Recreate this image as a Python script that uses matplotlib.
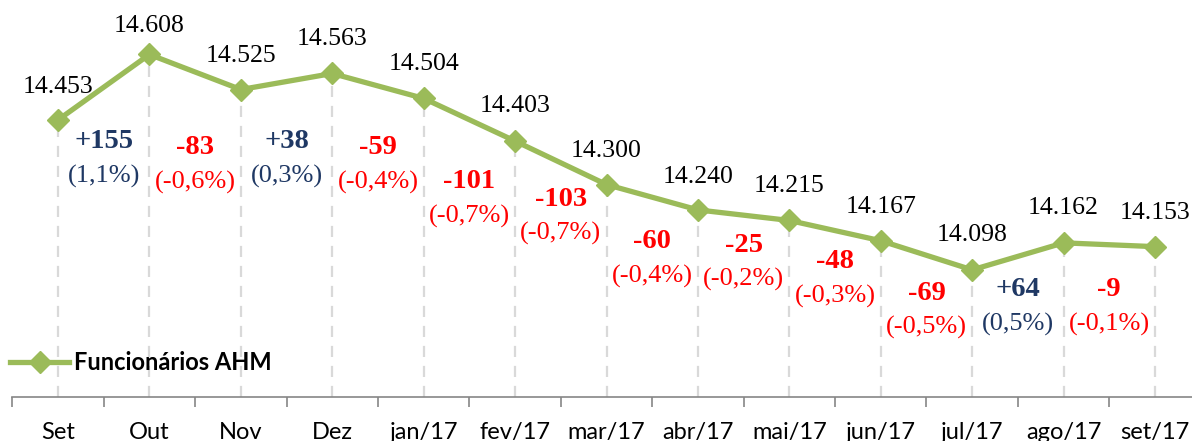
import matplotlib
matplotlib.use("Agg")
import matplotlib.pyplot as plt
import numpy as np

# ---- data ----
categories = ["Set", "Out", "Nov", "Dez", "jan/17", "fev/17", "mar/17", "abr/17",
              "mai/17", "jun/17", "jul/17", "ago/17", "set/17"]
employees = [14453, 14608, 14525, 14563, 14504, 14403, 14300, 14240,
             14215, 14167, 14098, 14162, 14153]
value_labels = ["14.453", "14.608", "14.525", "14.563", "14.504", "14.403", "14.300",
                "14.240", "14.215", "14.167", "14.098", "14.162", "14.153"]
change_labels = ["+155", "-83", "+38", "-59", "-101", "-103", "-60", "-25",
                 "-48", "-69", "+64", "-9"]
pct_labels = ["(1,1%)", "(-0,6%)", "(0,3%)", "(-0,4%)", "(-0,7%)", "(-0,7%)", "(-0,4%)",
              "(-0,2%)", "(-0,3%)", "(-0,5%)", "(0,5%)", "(-0,1%)"]
series_name = "Funcionários AHM"

# ---- layout (pixels from top of figure) ----
W, H = 1192, 441
axis_px = 397
change_y_px = [142, 148, 142, 148, 182, 199, 242, 245, 262, 293, 290, 290]
value_offset_px = [33, 28, 34, 34, 34, 35, 34, 33, 34, 34, 35, 35, 34]

GREEN = "#9BBB59"
NAVY = "#1F3864"
RED = "#FF0000"
SERIF = "Liberation Serif"

fig = plt.figure(figsize=(W / 100, H / 100), dpi=100)
left_px, right_px = 12.3, 1200.7
ax = fig.add_axes([left_px / W, (H - axis_px) / H, (right_px - left_px) / W, axis_px / H])

x = np.arange(len(categories))
ymin, ymax = 13797, 14737
ax.set_xlim(-0.5, len(categories) - 0.5)
ax.set_ylim(ymin, ymax)

# drop lines
ax.vlines(x, ymin, employees, colors="#D9D9D9", linestyles=(0, (5, 4)), linewidth=1.6, zorder=1)

ax.plot(x, employees, color=GREEN, linewidth=3.8, marker="D", markersize=11,
        markerfacecolor=GREEN, markeredgecolor=GREEN, label=series_name, zorder=3)

# value labels
for xi, v, lab, off in zip(x, employees, value_labels, value_offset_px):
    ax.annotate(lab, (xi, v), xytext=(0, off * 0.72), textcoords="offset points",
                ha="center", va="center", fontsize=18.5, family=SERIF, color="black")

# change labels
ytr = ax.get_xaxis_transform()
for i, (c, p, py) in enumerate(zip(change_labels, pct_labels, change_y_px)):
    col = NAVY if c.startswith("+") else RED
    ax.text(i + 0.5, (axis_px - py) / axis_px, c, transform=ytr, ha="center", va="center",
            fontsize=20.5, family=SERIF, fontweight="bold", color=col)
    ax.text(i + 0.5, (axis_px - py - 34) / axis_px, p, transform=ytr, ha="center", va="center",
            fontsize=19, family=SERIF, color=col)

# axes styling
for s in ["top", "right", "left"]:
    ax.spines[s].set_visible(False)
ax.spines["bottom"].set_color("#868686")
ax.spines["bottom"].set_linewidth(1.2)
ax.set_yticks([])
ax.set_xticks(x)
ax.set_xticklabels(categories, family="Lato", fontsize=17)
ax.set_xticks(np.arange(-0.5, len(categories)), minor=True)
ax.tick_params(axis="x", which="major", length=0, pad=18)
ax.tick_params(axis="x", which="minor", length=7, width=1.2, color="#868686")

leg = fig.legend(loc="center left", bbox_to_anchor=(10 / W, (H - 363) / H), frameon=False,
                 borderpad=0, borderaxespad=0, handlelength=2.5, handletextpad=0.2,
                 prop={"family": "Lato", "weight": "bold", "size": 17})

fig.savefig("out.png", dpi=100)
